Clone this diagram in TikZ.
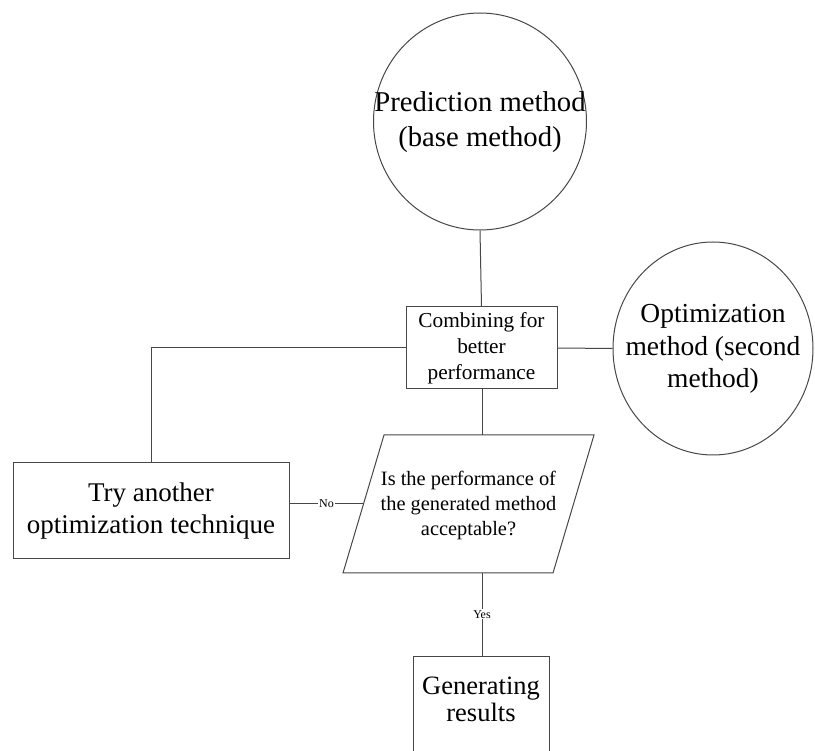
\documentclass[tikz,border=0pt]{standalone}
\usepackage{fontspec}
\setmainfont{Liberation Serif}
\usetikzlibrary{shapes.geometric}
\begin{document}
\begin{tikzpicture}[x=1pt,y=-1pt,
  ln/.style={draw=black!72, line width=1pt},
  circ/.style={ln, ellipse, inner sep=0pt},
  boxnode/.style={ln, rectangle, inner sep=0pt, align=center},
  lbl/.style={fill=white, inner sep=1pt, font=\fontsize{12}{14}\selectfont}
]
\useasboundingbox (0,0) rectangle (815,751);

% nodes
\node[circ, minimum width=213pt, minimum height=217pt] (pred) at (480,121.5) {};
\node[align=center, font=\fontsize{28.7}{35}\selectfont] (predtext) at (480,122)
  {Prediction method\\(base method)};
\node[boxnode, minimum width=151pt, minimum height=82pt, font=\fontsize{21.3}{26}\selectfont]
  (comb) at (481.5,348) {Combining for\\better\\performance};
\node[circ, minimum width=200pt, minimum height=213pt] (opt) at (713,348.5) {};
\node[align=center, font=\fontsize{27.5}{32.5}\selectfont] (opttext) at (713,349)
  {Optimization\\method (second\\method)};
\node[boxnode, minimum width=276pt, minimum height=96pt, font=\fontsize{27}{32}\selectfont]
  (try) at (151,511) {Try another\\optimization technique};
\node[boxnode, minimum width=136pt, minimum height=96pt] (gen) at (481,704) {};
\node[align=center, font=\fontsize{26.5}{27}\selectfont] (gentext) at (481,699)
  {Generating\\results};

% decision parallelogram
\coordinate (dtl) at (384,435);
\coordinate (dtr) at (594,435);
\coordinate (dbr) at (553,573);
\coordinate (dbl) at (343,573);
\draw[ln] (dtl) -- (dtr) -- (dbr) -- (dbl) -- cycle;
\node[align=center, font=\fontsize{20.4}{25}\selectfont] (dec) at (468.5,505)
  {Is the performance of\\the generated method\\acceptable?};
\coordinate (dtop) at (482,435);
\coordinate (dbot) at (482,573);
\path (dtl) -- (dbl) coordinate[pos=0.5] (dleft);

% connectors
\draw[ln] (pred.south) -- (comb.north);
\draw[ln] (comb.east) -- (opt.west);
\draw[ln] (comb.west) -| (try.north);
\draw[ln] (comb.south -| dtop) -- (dtop);
\draw[ln] (dleft) -- node[lbl] (no) {No} (dleft -| try.east);
\draw[ln] (dbot) -- node[lbl, pos=0.5] (yes) {Yes} (gen.north -| dbot);
\end{tikzpicture}
\end{document}
